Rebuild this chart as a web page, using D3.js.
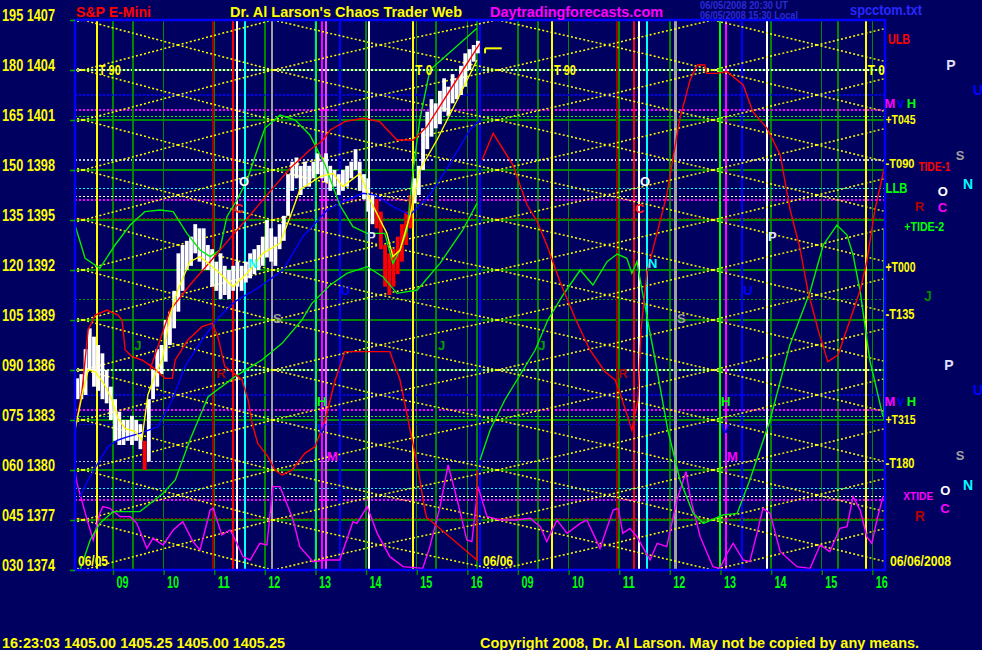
<!DOCTYPE html>
<html><head><meta charset="utf-8">
<script src="https://cdn.jsdelivr.net/npm/d3@7"></script>
<style>
html,body{margin:0;padding:0;background:#000060;}
svg{display:block;}
text{font-family:"Liberation Sans",Arial,Helvetica,sans-serif;font-weight:bold;}
</style></head><body>
<svg id="chart" width="982" height="650"></svg>
<script>
// ---------------- DATA ----------------
// time axis: session hours, day 1 (06/05) 08:15-16:15 = 0..8, day 2 (06/06) = 8..16
const priceTicks   = [1407,1404,1401,1398,1395,1392,1389,1386,1383,1380,1377,1374];
const degreeTicks  = ["195","180","165","150","135","120","105","090","075","060","045","030"];
const hourTicks    = [0.75,1.75,2.75,3.75,4.75,5.75,6.75,7.75,8.75,9.75,10.75,11.75,12.75,13.75,14.75,15.75];
const hourLabels   = ["09","10","11","12","13","14","15","16","09","10","11","12","13","14","15","16"];
const gridPrices   = [1377,1380,1383,1386,1389,1392,1395,1398,1401,1404];

// 5-minute price bars, day 1 from 08:15
const barHigh = [1385.5,1385.75,1387.25,1388.5,1388,1387.5,1387,1386,1385,1384.25,1383.5,1383,1383,1383.25,1383,1382.75,1381.75,1384.25,1386,1387.25,1387.5,1389,1389.5,1390.75,1393,1393.5,1393.75,1394,1394.75,1394.5,1394.5,1393.5,1393.25,1392.5,1393,1392.25,1392,1392.25,1392.5,1392.25,1392.5,1393,1393.25,1393.5,1394,1395,1394.5,1394,1394.75,1395.25,1397.75,1398.5,1398.75,1398.25,1398.5,1398.25,1398.5,1399,1398.5,1399,1398.25,1398,1397.75,1398,1398.25,1398.5,1399.25,1398.5,1397.75,1397.5,1396.5,1396.25,1395.5,1393.5,1393,1393.25,1394,1394.75,1395.5,1396.5,1397.5,1398.25,1400.5,1401.5,1402.25,1402,1402.75,1403.5,1403,1403.75,1403.5,1404.25,1405,1405.25,1405.5,1405.75];
const barLow  = [1384.25,1384.25,1384.5,1386,1385,1384.75,1384.25,1384,1383,1381.75,1381.5,1381.5,1381.75,1381.5,1381.75,1381.25,1380,1380.5,1384.25,1385,1385.75,1386.5,1387.5,1388.5,1389.5,1390.75,1392,1392.25,1393,1392.5,1392,1392,1391,1390.75,1390.25,1390.5,1390.25,1390.75,1391,1390.75,1391.25,1391.5,1391.75,1392,1392.25,1392.75,1392.5,1392.25,1393.25,1393.75,1395.25,1396.75,1397.5,1396.5,1397,1397,1397.5,1397.75,1397.5,1397.25,1396.75,1397,1396.5,1396.75,1397,1397.5,1398,1396.75,1396.25,1395.5,1394.75,1394.5,1393.25,1391,1390.5,1391,1391.75,1392.5,1393.5,1394.5,1396,1396.5,1398,1399.25,1400,1400.5,1400.75,1401.5,1401.25,1402,1402.25,1402.5,1403,1404,1404.5,1405];
const redBars = [16,71,72,73,74,75,76,77,78,79];
const lastPriceMark = [[8.10,1405.3],[8.43,1405.3]];

// indicator curves [session hour, price]
const yellowAvg = [[0,1382.4],[0.14,1384.5],[0.26,1386],[0.40,1385.9],[0.59,1385.1],[0.73,1384.2],[0.85,1383.1],[0.99,1382.5],[1.19,1382.3],[1.32,1381.8],[1.44,1384.5],[1.58,1385.7],[1.72,1386.6],[1.88,1389.3],[2.03,1390.8],[2.27,1392.5],[2.47,1392.8],[2.67,1392.3],[2.86,1391.8],[3.12,1391.0],[3.40,1391.8],[3.71,1393.0],[4.05,1393.6],[4.25,1395.2],[4.44,1396.8],[4.84,1397.6],[5.10,1397.8],[5.29,1397.0],[5.63,1397.8],[5.83,1396.2],[6.16,1394.2],[6.28,1392.8],[6.42,1393.2],[6.62,1395.3],[6.81,1398.0],[7.15,1399.8],[7.55,1402.2],[7.94,1404.6]];
const redLow = [[0,1382.4],[0.14,1384.8],[0.26,1388.4],[0.40,1389.3],[0.63,1389.6],[0.85,1389.3],[0.93,1389],[0.99,1387.2],[1.13,1386.8],[1.32,1386.6],[1.52,1386.2],[1.78,1385.5],[1.92,1385.5],[1.98,1386.6],[2.23,1387.8],[2.51,1388.6],[2.71,1388.8],[2.82,1388],[2.96,1386.2],[3.10,1385.9],[3.30,1385.4],[3.42,1384.2],[3.50,1382.8],[3.61,1381.6],[3.81,1380.8],[3.95,1380],[4.09,1379.7],[4.29,1380],[4.54,1381],[4.74,1381.4],[4.94,1383],[5.14,1385.4],[5.33,1387.1],[6.22,1387.1],[6.42,1385.4],[6.62,1382.4],[6.78,1380],[6.91,1377.6],[6.95,1377.1],[7.01,1377],[7.94,1374.6],[7.94,1380]];
const redHigh = [[1.48,1386],[1.68,1387.8],[1.88,1389.6],[2.27,1391.1],[2.67,1392.5],[3.06,1393.9],[3.46,1395.3],[3.85,1396.7],[4.25,1398.1],[4.64,1399.2],[4.90,1399.8],[5.04,1400.4],[5.33,1400.9],[5.69,1401.1],[6.02,1400.9],[6.36,1399.8],[6.68,1399.8],[6.95,1400.6],[7.41,1402.8],[8.00,1405.6]];
const redDay2 = [[8.04,1398.6],[8.26,1400.2],[8.65,1398.3],[8.93,1395.9],[9.13,1394.9],[9.32,1393.5],[9.58,1391.3],[9.88,1389.1],[10.17,1387.2],[10.47,1385.9],[10.67,1385.4],[10.81,1384.2],[11.00,1382.4],[11.12,1384.2],[11.18,1388.4],[11.30,1391.9],[11.42,1393.3],[11.69,1396.5],[11.81,1398.7],[11.95,1401.1],[12.15,1403.4],[12.29,1404.3],[12.44,1404.3],[12.48,1403.8],[12.68,1403.8],[12.88,1403.9],[13.20,1403.1],[13.39,1401.5],[13.67,1400.5],[13.93,1398.9],[14.12,1395.7],[14.32,1393.3],[14.48,1390.7],[14.68,1388.4],[14.87,1386.5],[15.07,1386.9],[15.31,1389.0],[15.51,1390.8],[15.64,1392.5],[15.80,1395.6],[16.00,1398.3]];
const greenLow = [[0.10,1374],[0.30,1375.8],[0.49,1376.8],[0.75,1377.5],[1.28,1377.5],[1.74,1378.6],[1.98,1379.4],[2.27,1381.8],[2.63,1384.4],[3.16,1385.6],[3.69,1386.6],[4.09,1387.6],[4.48,1389],[4.68,1390],[5.04,1391.1],[5.37,1391.8],[5.77,1392.2],[6.08,1391.6],[6.36,1390.6],[6.76,1390.8],[7.21,1392.4],[7.66,1394.4],[7.94,1396]];
const greenHigh = [[0,1394.7],[0.20,1392.7],[0.49,1392.1],[0.79,1393.5],[1.09,1394.7],[1.38,1395.5],[1.68,1395.6],[1.94,1395.5],[2.21,1394.2],[2.47,1393.2],[2.67,1392.8],[2.86,1393.2],[3.00,1395.2],[3.20,1396.2],[3.40,1397.4],[3.60,1399.2],[3.75,1400.5],[4.05,1401.3],[4.35,1401],[4.64,1400.1],[4.94,1398.3],[5.23,1395.9],[5.49,1394.6],[5.77,1394.2],[6.12,1394.2],[6.28,1392.4],[6.42,1393.2],[6.56,1394.4],[6.68,1398],[6.81,1401],[7.01,1404],[7.94,1406.5]];
const greenDay2 = [[8.00,1380.6],[8.20,1382.4],[8.49,1384.2],[8.79,1385.7],[9.09,1387.2],[9.34,1389],[9.64,1390.5],[9.98,1392],[10.23,1391.1],[10.51,1392.5],[10.71,1392.96],[10.90,1392.7],[11.00,1391.8],[11.10,1392.5],[11.20,1390.8],[11.46,1386.6],[11.71,1382.4],[11.95,1379.4],[12.21,1377.4],[12.41,1376.8],[12.80,1377.3],[13.08,1377.4],[13.33,1379.4],[13.73,1383],[14.12,1387.5],[14.52,1390.7],[14.78,1393.5],[15.05,1394.7],[15.25,1394.1],[15.37,1392.9],[15.51,1390.7],[15.70,1386.6],[15.96,1383.2]];
const greenEdge = [[15.98,1394.4],[15.98,1383]];
const blueCurve = [[0.10,1378.4],[0.26,1379.4],[0.49,1380.6],[0.65,1381.4],[0.85,1381.8],[1.05,1382],[1.28,1382.2],[1.64,1382.6],[1.92,1384.2],[2.17,1386.2],[2.51,1387.8],[2.82,1389.1],[3.16,1390.1],[3.65,1391],[4.11,1392],[4.50,1394],[4.98,1395.6],[5.37,1396.2],[5.69,1396.6],[5.93,1396.5],[6.28,1395.8],[6.62,1395.3],[7.01,1396.5],[7.41,1398.4],[7.80,1400.4],[8.00,1401]];
const magentaOsc = [[0,1380],[0.04,1379.2],[0.24,1377],[0.36,1375.8],[0.49,1377.4],[0.55,1377.8],[0.69,1377.7],[0.89,1377.2],[1.09,1377.2],[1.22,1376.8],[1.42,1375.3],[1.54,1375.9],[1.74,1375.5],[1.94,1376.4],[2.13,1376.9],[2.33,1375.7],[2.47,1375.2],[2.67,1377.6],[2.73,1377.7],[2.90,1376.1],[3.06,1376.4],[3.12,1376.1],[3.32,1374.8],[3.46,1374.6],[3.65,1375.6],[3.79,1375.5],[3.91,1379],[4.05,1379],[4.31,1377],[4.44,1375.4],[4.70,1374.5],[4.94,1374.6],[5.23,1374.6],[5.49,1376.9],[5.57,1376.8],[5.77,1377.8],[5.97,1376.2],[6.22,1374.8],[6.48,1374.2],[6.87,1374.1],[7.01,1375.4],[7.21,1377.8],[7.37,1380.3],[7.55,1378.2],[7.74,1375.8],[7.84,1375.7],[7.96,1379],[8.14,1377.2],[8.40,1377],[8.73,1377],[8.99,1377.1],[9.19,1376.6],[9.32,1375.7],[9.52,1377],[9.72,1376.2],[9.98,1376.8],[10.11,1377],[10.31,1375.7],[10.37,1375.3],[10.63,1377.6],[10.73,1377.7],[10.82,1376.2],[10.96,1376.5],[11.10,1376],[11.36,1374.6],[11.50,1375.6],[11.69,1375.4],[11.89,1378.2],[12.07,1379.9],[12.15,1378.4],[12.35,1376],[12.60,1374.2],[12.74,1374.1],[12.88,1375],[13.00,1375.6],[13.20,1374.6],[13.33,1374.5],[13.47,1376.2],[13.59,1377.7],[13.73,1377.4],[13.93,1375.1],[14.26,1374.2],[14.52,1374.1],[14.72,1375.5],[14.91,1375.1],[15.11,1376.5],[15.25,1376.6],[15.37,1378.4],[15.51,1377.6],[15.64,1376],[15.74,1375.6],[15.84,1377],[15.96,1378.4]];

// vertical cycle lines [session hour, colour, width]
const vLines = [[0.43,"#ffff00",1.5],[1.15,"#008800",1.5],[2.73,"#a00000",1.5],[3.12,"#ff0000",1.5],[3.20,"#ffffff",1.5],[3.36,"#00ffff",1.5],[3.89,"#a0a0a0",1.5],[4.74,"#0000ff",1.5],[4.76,"#00ff00",1.5],[4.88,"#ff00ff",1.5],[4.96,"#ff40ff",1.5],[5.23,"#0000ff",1.5],[5.81,"#ffffff",1.5],[6.68,"#ffff00",1.5],[7.13,"#008800",1.5],[7.94,"#008800",1.5],[8.00,"#0000ff",2.5],[9.15,"#008800",1.5],[9.42,"#ffff00",1.5],[10.71,"#a00000",1.5],[11.04,"#ff0000",1.5],[11.14,"#ffffff",1.5],[11.30,"#00ffff",1.5],[11.87,"#a0a0a0",3],[12.74,"#00ff00",1.5],[12.86,"#ff00ff",1.5],[13.18,"#0000ff",1.5],[13.67,"#ffffff",1.5],[15.07,"#008800",1.5],[15.62,"#ffff00",1.5]];
// dotted horizontal levels [price, colour]
const hLines = [[1404,"#ffffff"],[1402.5,"#0000ff"],[1401.6,"#ff00ff"],[1401.2,"#00ff00"],[1398.6,"#c0c0e0"],[1396.9,"#00ffff"],[1396.4,"#ffffff"],[1396.2,"#ff00ff"],[1395.1,"#c00000"],[1390.25,"#00a000"],[1386,"#e0e0e0"],[1384.5,"#0000ff"],[1383.6,"#ff00ff"],[1383.2,"#00ff00"],[1382.75,"#0000ff"],[1380.5,"#c0c0e0"],[1378.9,"#00ffff"],[1378.4,"#ffffff"],[1378.2,"#ff00ff"],[1377.1,"#c00000"]];
// yellow crossing lattice: node columns (session hours) and node kinds
const latticeTimes  = [-1.72,0.16,2.03,3.91,6.02,8.34,10.51,12.60,14.66,16.70];
const latticeKinds  = ["B","A","B","A","B","A","B","A","B","A"];
const latticeLevels = [1371,1374,1377,1380,1383,1386,1389,1392,1395,1398,1401,1404,1407,1410];

// labels [text, session hour, price, colour, font size, width]
const plotLabels = [["T 90",0.45,1404,"#ffff00",14,22],["T 0",6.70,1404,"#ffff00",14,17],["T 90",9.44,1404,"#ffff00",14,22],["T 0",15.64,1404,"#ffff00",14,17],
 ["O",3.22,1397.3,"#ffffff",13,0],["C",3.12,1395.7,"#ff2020",13,0],["N",3.40,1392.4,"#00ffff",13,0],["S",3.89,1389.1,"#a0a0a0",13,0],["J",1.15,1387.5,"#00a000",13,0],["R",2.77,1385.8,"#b00000",13,0],["H",4.76,1384.1,"#00ff00",13,0],["V",4.76,1382.5,"#0000ff",13,0],["M",4.96,1380.8,"#ff00ff",13,0],["P",5.75,1394.0,"#e0e0ff",13,0],["U",5.23,1390.8,"#0000ff",13,0],["J",7.15,1387.5,"#00a000",13,0],
 ["O",11.14,1397.3,"#ffffff",13,0],["C",11.04,1395.7,"#ff2020",13,0],["N",11.30,1392.4,"#00ffff",13,0],["S",11.87,1389.1,"#a0a0a0",13,0],["J",9.13,1387.5,"#00a000",13,0],["R",10.71,1385.8,"#b00000",13,0],["H",12.74,1384.1,"#00ff00",13,0],["V",12.74,1382.5,"#0000ff",13,0],["M",12.86,1380.8,"#ff00ff",13,0],["P",13.67,1394.0,"#e0e0ff",13,0],["U",13.18,1390.8,"#0000ff",13,0],
 ["06/05",0.04,1374.55,"#ffff00",15,30],["06/06",8.04,1374.55,"#ffff00",15,30]];
const sideLabels = [["ULB",16.04,1405.86,"#ff0000",15,22],["M",15.97,1402.0,"#ff00ff",13,0],["V",16.22,1401.95,"#0000ff",10,0],["H",16.41,1402.0,"#00ff00",13,0],["+T045",15.99,1401.05,"#ffff00",13,30],
 ["P",17.19,1404.3,"#e0e0ff",14,0],["U",17.72,1402.8,"#0000ff",14,0],["S",17.38,1398.9,"#a0a0a0",13,0],["-T090",15.99,1398.36,"#ffff00",12,29],["TIDE-1",16.64,1398.18,"#ff0000",12,32],["N",17.52,1397.16,"#00ffff",14,0],["LLB",15.99,1396.92,"#00ff00",14,22],
 ["C",17.02,1395.75,"#ff00ff",13,0],["O",17.02,1396.75,"#ffffff",13,0],["R",16.57,1395.85,"#b00000",13,0],["+TIDE-2",16.36,1394.65,"#00ff00",13,40],["+T000",15.99,1392.18,"#ffff00",14,30],["J",16.75,1390.44,"#008800",14,0],["-T135",15.99,1389.36,"#ffff00",14,29],
 ["P",17.15,1386.3,"#e0e0ff",14,0],["U",17.72,1384.8,"#0000ff",14,0],["M",15.97,1384.1,"#ff00ff",13,0],["V",16.22,1384.05,"#0000ff",10,0],["H",16.41,1384.1,"#00ff00",13,0],["+T315",15.99,1383.05,"#ffff00",13,30],
 ["S",17.38,1380.9,"#a0a0a0",13,0],["-T180",15.99,1380.42,"#ffff00",14,29],["N",17.52,1379.1,"#00ffff",14,0],["XTIDE",16.34,1378.44,"#ff00ff",11,30],["C",17.07,1377.7,"#ff00ff",13,0],["O",17.07,1378.8,"#ffffff",13,0],["R",16.57,1377.25,"#b00000",14,0],["06/06/2008",16.08,1374.55,"#ffff00",15,61]];

// ---------------- DRAW ----------------
const W = 982, H = 650;
const x = d3.scaleLinear().domain([0,16]).range([75,885]);
const y = d3.scaleLinear().domain([1374,1407]).range([570,20]);
const svg = d3.select("#chart");
svg.append("rect").attr("width",W).attr("height",H).attr("fill","#000060");
svg.append("defs").append("clipPath").attr("id","plotClip").append("rect")
  .attr("x",x(0)).attr("y",y(1407)).attr("width",x(16)-x(0)).attr("height",y(1374)-y(1407));
const plot = svg.append("g").attr("clip-path","url(#plotClip)");

// green price grid
plot.selectAll("line.grid").data(gridPrices).join("line").attr("class","grid")
  .attr("x1",x(0)).attr("x2",x(16)).attr("y1",d=>y(d)).attr("y2",d=>y(d))
  .attr("stroke","#008800").attr("stroke-width",1.5).attr("shape-rendering","crispEdges");
// hour grid
plot.selectAll("line.hgrid").data(hourTicks).join("line").attr("class","hgrid")
  .attr("x1",d=>x(d)).attr("x2",d=>x(d)).attr("y1",y(1407)).attr("y2",y(1374))
  .attr("stroke","#008800").attr("stroke-width",1.5).attr("shape-rendering","crispEdges");
// dotted levels
plot.selectAll("line.hl").data(hLines).join("line").attr("class","hl")
  .attr("x1",x(0)).attr("x2",x(16)).attr("y1",d=>y(d[0])).attr("y2",d=>y(d[0]))
  .attr("stroke",d=>d[1]).attr("stroke-width",1.3).attr("stroke-dasharray","2,2").attr("shape-rendering","crispEdges");
// vertical cycle lines
plot.selectAll("line.vl").data(vLines).join("line").attr("class","vl")
  .attr("x1",d=>x(d[0])).attr("x2",d=>x(d[0])).attr("y1",y(1407)).attr("y2",y(1374))
  .attr("stroke",d=>d[1]).attr("stroke-width",d=>d[2]).attr("shape-rendering","crispEdges");

// yellow lattice
const segs = [];
for (let i=0;i<latticeTimes.length-1;i++){
  const aIdx = latticeKinds[i]==="A"? i : i+1, bIdx = aIdx===i? i+1 : i;
  latticeLevels.forEach(a=>{
    segs.push([[latticeTimes[aIdx],a],[latticeTimes[bIdx],a+1.5]]);
    segs.push([[latticeTimes[aIdx],a],[latticeTimes[bIdx],a-1.5]]);
  });
}
plot.selectAll("line.lat").data(segs).join("line").attr("class","lat")
  .attr("x1",d=>x(d[0][0])).attr("y1",d=>y(d[0][1])).attr("x2",d=>x(d[1][0])).attr("y2",d=>y(d[1][1]))
  .attr("stroke","#ffff00").attr("stroke-width",1.5).attr("stroke-dasharray","2,2.2");

// price bars
const bars = barHigh.map((h,i)=>({t:(i*5+2.5)/60,h,l:barLow[i],red:redBars.includes(i)}));
plot.selectAll("line.bar").data(bars).join("line").attr("class","bar")
  .attr("x1",d=>x(d.t)).attr("x2",d=>x(d.t)).attr("y1",d=>y(d.h)).attr("y2",d=>y(d.l))
  .attr("stroke",d=>d.red?"#ff0000":"#ffffff").attr("stroke-width",3.8);

// curves
const line = d3.line().x(d=>x(d[0])).y(d=>y(d[1]));
const curves = [[magentaOsc,"#ff00ff"],[blueCurve,"#0000ff"],[greenLow,"#00ee00"],[greenHigh,"#00ee00"],[greenDay2,"#00ee00"],[greenEdge,"#00ff00"],
  [redLow,"#ff0000"],[redHigh,"#ff0000"],[redDay2,"#ff0000"],[yellowAvg,"#ffff00"]];
plot.selectAll("path.curve").data(curves).join("path").attr("class","curve")
  .attr("d",d=>line(d[0])).attr("fill","none").attr("stroke",d=>d[1]).attr("stroke-width",1.4);
plot.append("path").attr("d",line([lastPriceMark[0],lastPriceMark[1]]))
  .attr("stroke","#ffff00").attr("stroke-width",2).attr("fill","none");
plot.append("line").attr("x1",x(lastPriceMark[0][0])).attr("x2",x(lastPriceMark[0][0]))
  .attr("y1",y(lastPriceMark[0][1])).attr("y2",y(lastPriceMark[0][1])+5).attr("stroke","#ffff00").attr("stroke-width",2);

// border
svg.append("rect").attr("x",x(0)).attr("y",y(1407)).attr("width",x(16)-x(0)).attr("height",y(1374)-y(1407))
  .attr("fill","none").attr("stroke","#0000ff").attr("stroke-width",2.5);

// axes
const yAxis = d3.axisLeft(y).tickValues(priceTicks).tickSize(5).tickPadding(15)
  .tickFormat((d,i)=>degreeTicks[i]+" "+d);
svg.append("g").attr("transform",`translate(${x(0)},0)`).call(yAxis)
  .call(g=>g.select(".domain").remove())
  .call(g=>g.selectAll(".tick line").attr("stroke","#00aa00").attr("stroke-width",1.5))
  .call(g=>g.selectAll(".tick text").attr("fill","#ffff00").attr("font-size",16.5).attr("y",-5)
      .attr("font-family","Liberation Sans, Arial, sans-serif").attr("font-weight","bold")
      .attr("textLength",53).attr("lengthAdjust","spacingAndGlyphs"));
const xAxis = d3.axisBottom(x).tickValues(hourTicks).tickSize(5).tickPadding(2)
  .tickFormat((d,i)=>hourLabels[i]);
svg.append("g").attr("transform",`translate(0,${y(1374)})`).call(xAxis)
  .call(g=>g.select(".domain").remove())
  .call(g=>g.selectAll(".tick line").attr("stroke","#008800").attr("stroke-width",1.5))
  .call(g=>g.selectAll(".tick text").attr("fill","#00ff00").attr("font-size",16).attr("text-anchor","start").attr("x",3)
      .attr("font-family","Liberation Sans, Arial, sans-serif").attr("font-weight","bold")
      .attr("textLength",12).attr("lengthAdjust","spacingAndGlyphs"));

// labels
function drawLabels(arr){
  svg.append("g").selectAll("text").data(arr).join("text")
    .attr("x",d=>x(d[1])+1).attr("y",d=>y(d[2])).attr("dy","0.36em")
    .attr("fill",d=>d[3]).attr("font-size",d=>d[4])
    .each(function(d){ if(d[5]>0) d3.select(this).attr("textLength",d[5]).attr("lengthAdjust","spacingAndGlyphs"); })
    .text(d=>d[0]);
}
drawLabels(plotLabels);
drawLabels(sideLabels);

// titles
const titles = [["S&P E-Mini",76,17,"#ff0000",15,75,"bold"],["Dr. Al Larson's Chaos Trader Web",230,17,"#ffff00",15,232,"bold"],
  ["Daytradingforecasts.com",490,17,"#ff00ff",15,173,"bold"],["06/05/2008 20:30 UT",700,9,"#2a2ad8",10,88,"normal"],
  ["06/05/2008 15:30 Local",700,19,"#2a2ad8",10,98,"normal"],["spcctom.txt",850,15,"#2828ff",14,72,"bold"],
  ["16:23:03 1405.00 1405.25 1405.00 1405.25",2,648,"#ffff00",14,283,"bold"],
  ["Copyright 2008, Dr. Al Larson. May not be copied by any means.",480,648,"#ffff00",14,439,"bold"]];
svg.append("g").selectAll("text").data(titles).join("text")
  .attr("x",d=>d[1]).attr("y",d=>d[2]).attr("fill",d=>d[3]).attr("font-size",d=>d[4])
  .attr("font-weight",d=>d[6]).attr("textLength",d=>d[5]).attr("lengthAdjust","spacingAndGlyphs").text(d=>d[0]);
</script>
</body></html>
